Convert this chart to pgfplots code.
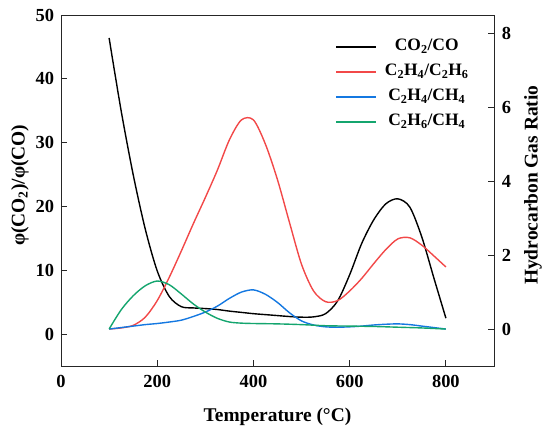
\documentclass[border=0pt]{standalone}
\usepackage{pgfplots}
\pgfplotsset{compat=1.18}
\usepackage{fontspec}
\setmainfont{Liberation Serif}
\definecolor{cred}{RGB}{242,72,72}
\definecolor{cblue}{RGB}{20,120,225}
\definecolor{cgreen}{RGB}{20,165,110}
\begin{document}
\begin{tikzpicture}
\pgfplotsset{
  every axis/.append style={
    scale only axis, width=433bp, height=351bp,
    xmin=0, xmax=900,
    tick align=inside, major tick length=6bp,
    line width=1pt,
    axis line style={draw=black!85},
    tick style={line width=1pt, black!85},
    /pgf/number format/assume math mode=true,
    tick label style={font=\fontsize{18.5}{22}\selectfont\bfseries},
    label style={font=\fontsize{19.5}{23}\selectfont\bfseries},
  },
}
\path (-61bp,-67bp) rectangle (489bp,366bp);
\begin{axis}[
  at={(0,0)}, anchor=south west,
  ymin=-5, ymax=50,
  xtick={0,200,400,600,800},
  ytick={0,10,20,30,40,50},
  xtick pos=bottom, ytick pos=left,
  xticklabel style={yshift=-5bp},
  yticklabel style={xshift=-3bp},
  xlabel={Temperature (°C)},
  ylabel={φ(CO\textsubscript{2})/φ(CO)},
  xlabel style={at={(axis description cs:0.5,-0.145)}, anchor=center},
  ylabel style={at={(axis description cs:-0.095,0.515)}, anchor=center, rotate=0},
]
\addplot[black, line width=1.4pt, smooth] coordinates {
(100,46.4) (125,35.0) (150,25.0) (175,16.5) (200,9.9) (225,5.9) (250,4.3)
(275,4.1) (300,4.0) (325,3.85) (350,3.6) (375,3.4) (400,3.2) (425,3.05)
(450,2.9) (475,2.75) (500,2.65) (525,2.7) (550,3.2) (575,5.2) (600,9.3)
(625,14.2) (650,17.9) (675,20.4) (700,21.2) (725,19.9) (750,15.2) (775,8.8)
(800,2.5)
};
\end{axis}
\begin{axis}[
  at={(0,0)}, anchor=south west,
  ymin=-1, ymax=8.5,
  axis y line*=right, axis x line=none,
  ytick={0,2,4,6,8},
  yticklabel style={xshift=4bp},
  ylabel={Hydrocarbon Gas Ratio},
  ylabel style={at={(axis description cs:1.09,0.515)}, anchor=center},
  legend cell align=center,
  legend style={draw=none, fill=none, inner sep=0pt,
    at={(0.633,0.936)}, anchor=north west,
    font=\fontsize{17.5}{21}\selectfont\bfseries,
    row sep=7bp, column sep=8bp,
    nodes={inner sep=0pt, text height=13bp, text depth=5bp}},
  legend image code/.code={\draw[#1, line width=1.4pt] (0bp,0bp) -- (40bp,0bp);},
]
\addlegendimage{black}
\addlegendentry{CO\textsubscript{2}/CO}
\addplot[cred, line width=1.4pt, smooth] coordinates {
(100,0.00) (125,0.03) (150,0.10) (175,0.32) (200,0.77) (225,1.40) (250,2.11)
(275,2.85) (300,3.56) (325,4.30) (350,5.12) (375,5.66) (400,5.66) (425,5.00)
(450,4.04) (475,2.88) (500,1.75) (525,1.03) (550,0.74) (575,0.77) (600,1.03)
(625,1.37) (650,1.77) (675,2.15) (700,2.44) (725,2.47) (750,2.27) (775,1.98)
(800,1.68)
};
\addlegendentry{C\textsubscript{2}H\textsubscript{4}/C\textsubscript{2}H\textsubscript{6}}
\addplot[cblue, line width=1.4pt, smooth] coordinates {
(100,0) (125,0.04) (150,0.08) (175,0.12) (200,0.15) (225,0.19) (250,0.24)
(275,0.34) (300,0.46) (325,0.62) (350,0.83) (375,1.00) (400,1.06) (425,0.94)
(450,0.72) (475,0.44) (500,0.22) (525,0.11) (550,0.06) (575,0.05) (600,0.06)
(625,0.08) (650,0.11) (675,0.13) (700,0.14) (725,0.12) (750,0.08) (775,0.04)
(800,0)
};
\addlegendentry{C\textsubscript{2}H\textsubscript{4}/CH\textsubscript{4}}
\addplot[cgreen, line width=1.4pt, smooth] coordinates {
(100,0) (125,0.52) (150,0.90) (175,1.17) (200,1.30) (225,1.20) (250,0.95)
(275,0.68) (300,0.46) (325,0.29) (350,0.19) (375,0.16) (400,0.15) (450,0.14)
(500,0.12) (550,0.09) (600,0.08) (650,0.07) (700,0.05) (750,0.03) (800,0)
};
\addlegendentry{C\textsubscript{2}H\textsubscript{6}/CH\textsubscript{4}}
\end{axis}
\end{tikzpicture}
\end{document}
